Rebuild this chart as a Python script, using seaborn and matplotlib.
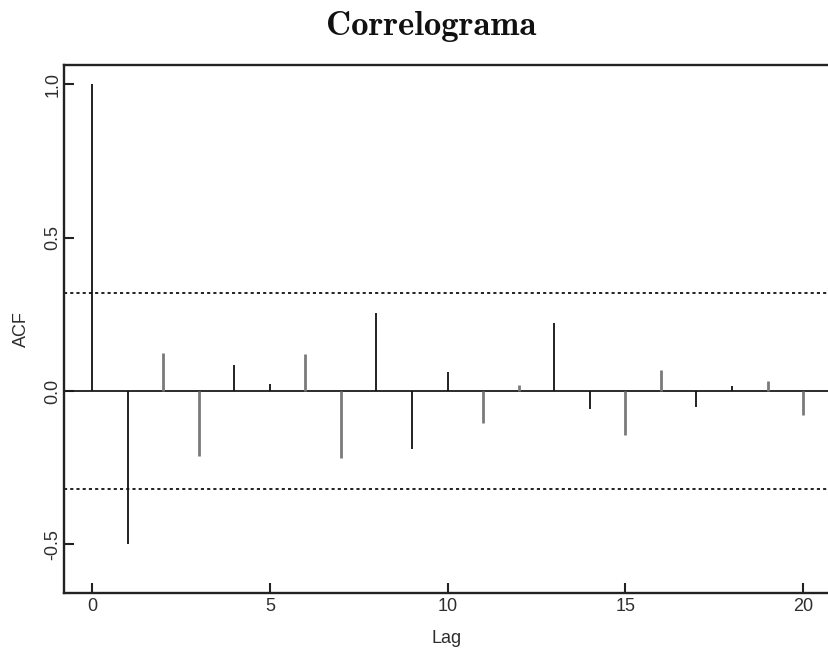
import matplotlib
matplotlib.use("Agg")
import matplotlib.pyplot as plt
import seaborn as sns
import numpy as np

# ---- data ----
lags = [0, 1, 2, 3, 4, 5, 6, 7, 8, 9, 10, 11, 12, 13, 14, 15, 16, 17, 18, 19, 20]
acf_values = [1.0, -0.50, 0.125, -0.213, 0.086, 0.024, 0.119, -0.218, 0.255, -0.19,
              0.061, -0.104, 0.018, 0.222, -0.06, -0.142, 0.07, -0.052, 0.016, 0.034, -0.077]
conf_bound = 0.32
x_ticks = [0, 5, 10, 15, 20]
y_ticks = [-0.5, 0.0, 0.5, 1.0]
y_tick_labels = ["-0.5", "0.0", "0.5", "1.0"]
title_text = "Correlograma"
x_label = "Lag"
y_label = "ACF"

# style only: anti-aliasing look of the scanned stems (dark thin vs grey wide)
stem_dark = [True, True, False, False, True, True, False, False, True, True, True,
             False, False, True, True, False, False, True, True, False, False]

sns.set_theme(style="ticks")
plt.rcParams['font.family'] = ['Liberation Sans', 'DejaVu Sans']

W, H = 829, 652
fig = plt.figure(figsize=(W / 100, H / 100), dpi=100)
ax = fig.add_axes([64 / W, 1 - 593 / H, (829 - 64) / W, (593 - 65) / H])

for lag, val, dark in zip(lags, acf_values, stem_dark):
    if dark:
        ax.vlines(lag, 0, val, color="#111111", lw=1.3, zorder=3)
    else:
        ax.vlines(lag, 0, val, color="#7a7a7a", lw=2.0, zorder=3)

ax.axhline(0, color="#1a1a1a", lw=1.3, zorder=2)
for b in (conf_bound, -conf_bound):
    ax.axhline(b, color="#222222", lw=1.4, linestyle=(0, (1.6, 1.6)), zorder=2)

ax.set_xlim(-0.79, 20.73)
ax.set_ylim(-0.658, 1.062)
ax.set_xticks(x_ticks)
ax.set_yticks(y_ticks)
ax.set_yticklabels(y_tick_labels, rotation=90, va="center")

for s in ["left", "bottom", "top"]:
    ax.spines[s].set_color("#222222")
    ax.spines[s].set_linewidth(1.7)
ax.spines["right"].set_visible(False)

ax.tick_params(axis="both", direction="in", length=7.5, width=1.5, color="#222222",
               labelsize=13, labelcolor="#2e2e2e")
ax.tick_params(axis="x", pad=3.5)
ax.tick_params(axis="y", pad=2)

ax.set_xlabel(x_label, fontsize=13, color="#2e2e2e", labelpad=11)
ax.set_ylabel(y_label, fontsize=13, color="#2e2e2e", labelpad=10)

fig.text(431 / W, 1 - 35 / H, title_text, family="cmb10", fontsize=25,
         ha="center", va="baseline", color="#111111")

fig.savefig("out.png", dpi=100)
